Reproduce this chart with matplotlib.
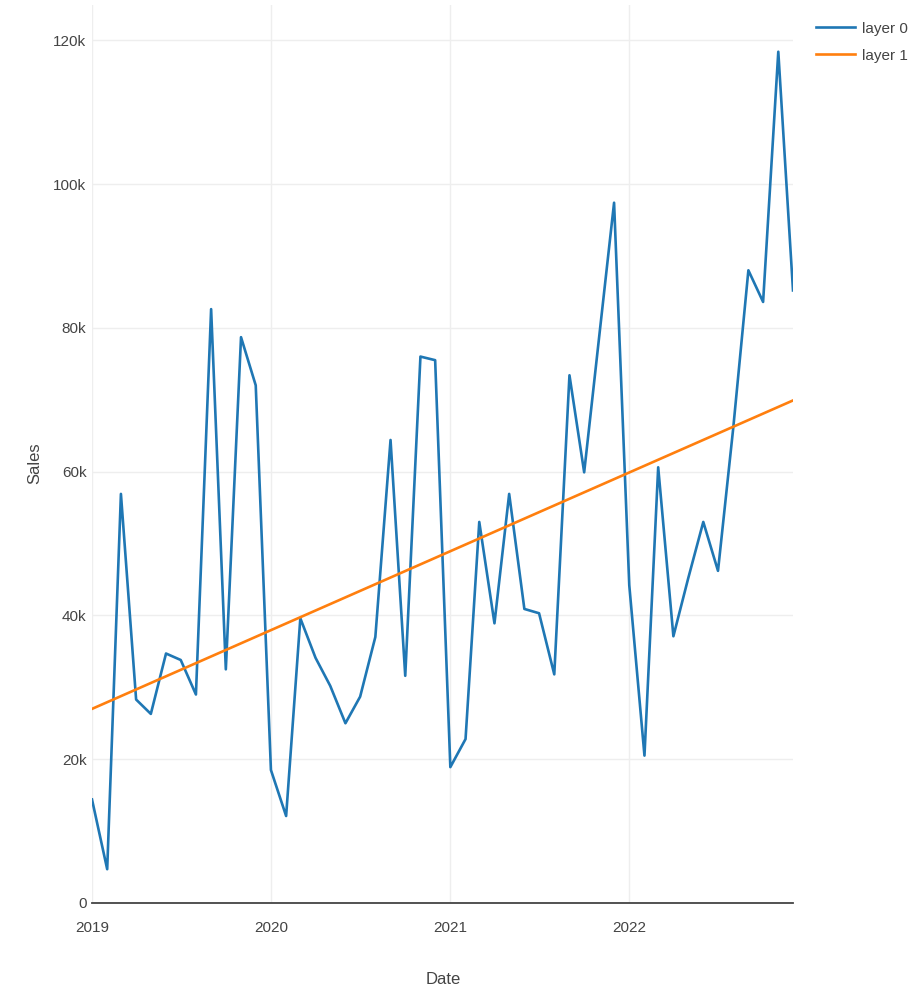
import matplotlib
matplotlib.use("Agg")
import matplotlib.pyplot as plt
import numpy as np
import pandas as pd

# monthly sales, Jan 2019 .. Dec 2022 (values in thousands)
dates = pd.date_range("2019-01-01", "2022-12-01", freq="MS")
sales_k = [14.4, 4.7, 56.9, 28.3, 26.3, 34.7, 33.8, 29.0, 82.6, 32.5, 78.7, 72.0,
           18.5, 12.1, 39.6, 34.1, 30.2, 25.0, 28.7, 37.0, 64.4, 31.6, 76.0, 75.5,
           18.9, 22.8, 53.0, 38.9, 56.9, 40.9, 40.3, 31.8, 73.4, 59.9, 79.0, 97.4,
           44.2, 20.5, 60.6, 37.1, 45.1, 53.0, 46.2, 66.0, 88.0, 83.6, 118.4, 85.2]
sales = np.array(sales_k) * 1000

# linear trend ("layer 1"), value at first and last month
trend_dates = [dates[0], dates[-1]]
trend_vals = [27000, 69900]

yticks = [0, 20000, 40000, 60000, 80000, 100000, 120000]
ytick_labels = ["0", "20k", "40k", "60k", "80k", "100k", "120k"]
year_ticks = pd.to_datetime(["2019-01-01", "2020-01-01", "2021-01-01", "2022-01-01"])
year_labels = ["2019", "2020", "2021", "2022"]

plt.rcParams['font.family'] = ['Liberation Sans', 'DejaVu Sans']
txt = '#444444'

fig = plt.figure(figsize=(9.23, 9.99), dpi=100)
ax = fig.add_axes([92/923, 96/999, (793-92)/923, (903-5)/999])

ax.plot(dates, sales, color='#1f77b4', lw=1.9, label='layer 0', zorder=3)
ax.plot(trend_dates, trend_vals, color='#ff7f0e', lw=1.9, label='layer 1', zorder=3)

ax.set_xlim(dates[0], dates[-1])
ax.set_ylim(0, 124900)
ax.set_yticks(yticks)
ax.set_yticklabels(ytick_labels)
ax.set_xticks(year_ticks)
ax.set_xticklabels(year_labels)
ax.tick_params(length=0, labelsize=11, colors=txt)
ax.tick_params(axis='y', pad=4)
ax.tick_params(axis='x', pad=13)

ax.grid(True, color='#eeeeee', lw=1)
ax.set_axisbelow(True)
for s in ['top', 'right', 'left']:
    ax.spines[s].set_visible(False)
ax.spines['bottom'].set_color('#444444')
ax.spines['bottom'].set_linewidth(1.3)
ax.spines['bottom'].set_zorder(4)

fig.text(35/923, 1 - 463/999, 'Sales', rotation=90, ha='center', va='center',
         fontsize=12, color=txt)
fig.text(443/923, 1 - 980/999, 'Date', ha='center', va='center',
         fontsize=12, color=txt)

leg = ax.legend(loc='upper left', bbox_to_anchor=(802/923, 1 - 8/999),
                bbox_transform=fig.transFigure, frameon=False, fontsize=11,
                handlelength=2.6, labelspacing=0.85, handletextpad=0.45)
for t in leg.get_texts():
    t.set_color(txt)

fig.savefig('out.png', dpi=100)
